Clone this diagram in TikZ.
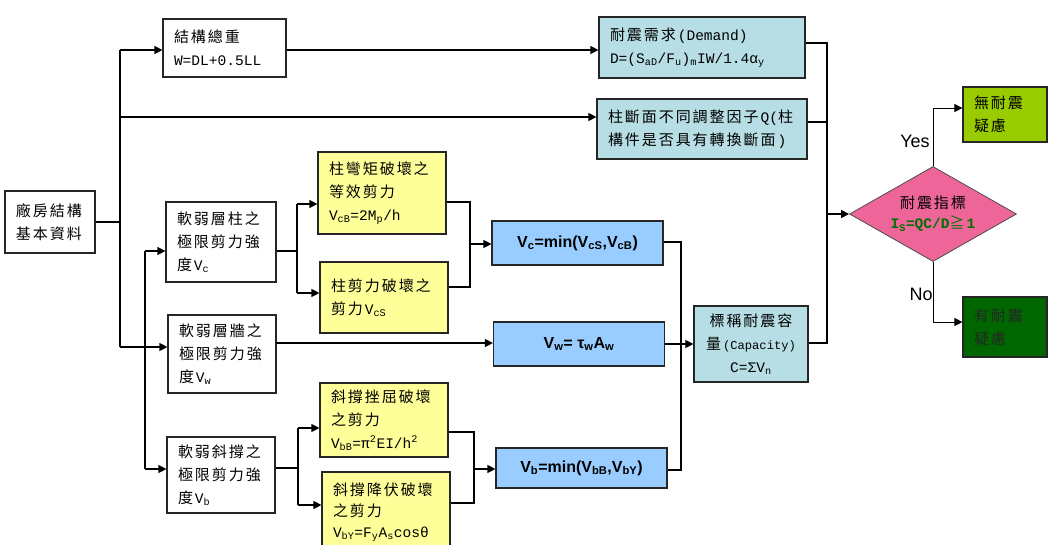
\documentclass[tikz,border=0pt]{standalone}
\usepackage{fontspec}
\setmainfont{Noto Sans CJK TC}[LetterSpace=13]
\setmonofont{Liberation Mono}[Scale=0.97]
\setsansfont{Liberation Sans}
\usepackage{xcolor}
\usetikzlibrary{positioning, calc, arrows.meta, shapes.geometric}

\definecolor{demandcyan}{RGB}{183,222,228}
\definecolor{failyellow}{RGB}{255,255,153}
\definecolor{shearblue}{RGB}{153,204,255}
\definecolor{indexpink}{RGB}{238,102,153}
\definecolor{indexgreen}{RGB}{0,112,0}
\definecolor{safegreen}{RGB}{153,204,0}
\definecolor{riskgreen}{RGB}{0,102,0}

\begin{document}
\begin{tikzpicture}[x=1pt, y=-1pt, line width=1.3pt,
    >={Triangle[length=8pt, width=8pt]},
    panel/.style={draw=black!85, line width=1.2pt, inner xsep=11pt, inner ysep=0pt,
        align=left, font=\fontsize{15}{23}\selectfont},
    shear/.style={draw=black!85, line width=1.2pt, fill=shearblue, inner sep=0pt,
        minimum width=171pt, font=\sffamily\bfseries\fontsize{16}{18}\selectfont},
    verdict/.style={font=\sffamily\fontsize{18}{20}\selectfont, inner sep=0pt}]

    % --- PAGE FRAME ---
    \useasboundingbox (0,0) rectangle (1057,544);
    \fill[white] (0,0) rectangle (1057,544);

    % --- INPUT COLUMN ---
    \node[panel, text width=68pt, minimum height=62pt] (base) at (50,222) {廠房結構\\基本資料};

    % --- UPPER ROW: weight and section factor ---
    \node[panel, text width=101pt, minimum height=58pt] (wt) at (224.5,48) {結構總重\\\texttt{W=DL+0.5LL}};
    \node[panel, fill=demandcyan, text width=184pt, minimum height=61pt] (demand) at (702,47.5)
        {耐震需求\texttt{(Demand)}\\\texttt{D=(S\textsubscript{aD}/F\textsubscript{u})\textsubscript{m}IW/1.4α\textsubscript{y}}};
    \node[panel, fill=demandcyan, text width=188pt, minimum height=60pt] (qfac) at (702,129)
        {柱斷面不同調整因子\texttt{Q(}柱\\構件是否具有轉換斷面\texttt{)}};

    % --- SOFT STOREY MEMBERS ---
    \node[panel, text width=88pt, minimum height=80pt] (col) at (221,242) {軟弱層柱之\\極限剪力強\\度\texttt{V\textsubscript{c}}};
    \node[panel, text width=86pt, minimum height=78pt] (wall) at (222,354) {軟弱層牆之\\極限剪力強\\度\texttt{V\textsubscript{w}}};
    \node[panel, text width=86pt, minimum height=76pt] (brace) at (221,475) {軟弱斜撐之\\極限剪力強\\度\texttt{V\textsubscript{b}}};

    % --- FAILURE MODES (yellow) ---
    \node[panel, fill=failyellow, text width=106pt, minimum height=82pt] (cb) at (382,193)
        {柱彎矩破壞之\\等效剪力\\\texttt{V\textsubscript{cB}=2M\textsubscript{p}/h}};
    \node[panel, fill=failyellow, text width=106pt, minimum height=71pt] (cs) at (384,297.5)
        {柱剪力破壞之\\剪力\texttt{V\textsubscript{cS}}};
    \node[panel, fill=failyellow, text width=106pt, minimum height=74pt] (bb) at (384,420)
        {斜撐挫屈破壞\\之剪力\\\texttt{V\textsubscript{bB}=π\textsuperscript{2}EI/h\textsuperscript{2}}};
    \node[panel, fill=failyellow, text width=106pt, minimum height=80pt,
          font=\fontsize{15}{21}\selectfont] (by) at (386,512)
        {斜撐降伏破壞\\之剪力\\\texttt{V\textsubscript{bY}=F\textsubscript{y}A\textsubscript{s}cosθ}};

    % --- MEMBER SHEAR STRENGTHS (blue) ---
    \node[shear, minimum height=44pt] (vc) at (577.5,243) {V\textsubscript{c}=min(V\textsubscript{cS},V\textsubscript{cB})};
    \node[shear, minimum height=44pt] (vw) at (579,344) {V\textsubscript{w}= τ\textsubscript{w}A\textsubscript{w}};
    \node[shear, minimum height=40pt] (vb) at (581.5,468) {V\textsubscript{b}=min(V\textsubscript{bB},V\textsubscript{bY})};

    % --- CAPACITY ---
    \node[panel, fill=demandcyan, align=center, text width=92pt, minimum height=76pt] (cap) at (751,344)
        {標稱耐震容\\量{\fontsize{12.5}{23}\selectfont\texttt{(Capacity)}}\\\texttt{C=ΣV\textsubscript{n}}};

    % --- INDEX CHECK ---
    \node[diamond, aspect=1.76, draw=black!70, line width=0.8pt, fill=indexpink, inner sep=0pt,
          minimum width=167pt, minimum height=95pt, align=center,
          font=\fontsize{15}{20}\selectfont] (idx) at (933,214)
        {耐震指標\\\textcolor{indexgreen}{\texttt{\bfseries I\textsubscript{S}=QC/D}≧\texttt{\bfseries 1}}};
    \node[panel, fill=safegreen, text width=62pt, minimum height=55pt] (ok) at (1005,114.5) {無耐震\\疑慮};
    \node[panel, fill=riskgreen, text=black!85, text width=62pt, minimum height=60pt] (ng) at (1005,327) {有耐震\\疑慮};
    \node[verdict] (yes) at (915,141) {Yes};
    \node[verdict] (no) at (921,294) {No};

    % --- JUNCTION COORDINATES ---
    \coordinate (spine1) at (120,50);
    \coordinate (spine2) at (120,117);
    \coordinate (spine3) at (120,347);
    \coordinate (branch) at (145,347);
    \coordinate (subTop) at (145,251);
    \coordinate (subBot) at (145,469);
    \coordinate (colFork) at (297,251);
    \coordinate (colForkTop) at (297,204);
    \coordinate (colForkBot) at (297,293);
    \coordinate (colJoinTop) at (470,202);
    \coordinate (colJoinBot) at (470,287);
    \coordinate (colJoin) at (470,244);
    \coordinate (brFork) at (298,468);
    \coordinate (brForkTop) at (298,428);
    \coordinate (brForkBot) at (298,505);
    \coordinate (brJoinTop) at (474,432);
    \coordinate (brJoinBot) at (474,503);
    \coordinate (brJoin) at (474,469);
    \coordinate (wallOut) at (276,343);
    \coordinate (sumTop) at (681,242);
    \coordinate (sumBot) at (681,470);
    \coordinate (rTop) at (827,43);
    \coordinate (rQ) at (827,122);
    \coordinate (rMid) at (827,214);
    \coordinate (rBot) at (827,343);
    \coordinate (yesBend) at (933,108);
    \coordinate (noBend) at (933,322);

    % --- LEFT SPINE ---
    \draw (spine1) -- (spine3);
    \draw (base.east) -- (base.east -| spine1);
    \draw[->] (spine1) -- (wt.west |- spine1);
    \draw[->] (spine2) -- (qfac.west |- spine2);
    \draw (spine3) -- (branch);
    \draw (subTop) -- (subBot);
    \draw[->] (subTop) -- (col.west |- subTop);
    \draw[->] (branch) -- (wall.west |- branch);
    \draw[->] (subBot) -- (brace.west |- subBot);
    \draw[->] (wt.east |- spine1) -- (demand.west |- spine1);

    % --- COLUMN BRANCH ---
    \draw (col.east |- colFork) -- (colFork);
    \draw (colForkTop) -- (colForkBot);
    \draw[->] (colForkTop) -- (cb.west |- colForkTop);
    \draw[->] (colForkBot) -- (cs.west |- colForkBot);
    \draw (cb.east |- colJoinTop) -- (colJoinTop) -- (colJoinBot) -- (cs.east |- colJoinBot);
    \draw[->] (colJoin) -- (vc.west |- colJoin);

    % --- WALL BRANCH ---
    \draw[->] (wallOut) -- (vw.west |- wallOut);

    % --- BRACE BRANCH ---
    \draw (brace.east |- brFork) -- (brFork);
    \draw (brForkTop) -- (brForkBot);
    \draw[->] (brForkTop) -- (bb.west |- brForkTop);
    \draw[->] (brForkBot) -- (by.west |- brForkBot);
    \draw (bb.east |- brJoinTop) -- (brJoinTop) -- (brJoinBot) -- (by.east |- brJoinBot);
    \draw[->] (brJoin) -- (vb.west |- brJoin);

    % --- SUM TO CAPACITY ---
    \draw (vc.east |- sumTop) -- (sumTop) -- (sumBot) -- (vb.east |- sumBot);
    \draw[->] (vw.east) -- (cap.west |- vw.east);

    % --- RIGHT SPINE AND DECISION ---
    \draw (demand.east |- rTop) -- (rTop) -- (rBot) -- (cap.east |- rBot);
    \draw (qfac.east |- rQ) -- (rQ);
    \draw[->] (rMid) -- (idx.west);
    \draw[->, line width=1pt] (idx.north) -- (yesBend) -- (ok.west |- yesBend);
    \draw[->, line width=1pt] (idx.south) -- (noBend) -- (ng.west |- noBend);

\end{tikzpicture}
\end{document}
